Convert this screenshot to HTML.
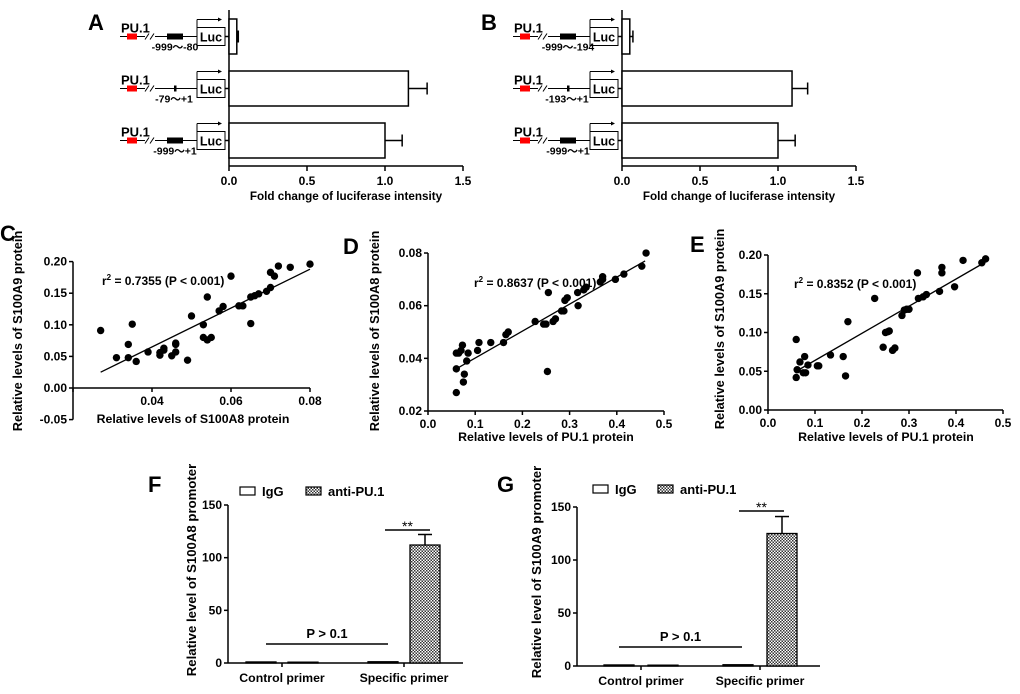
<!DOCTYPE html>
<html><head><meta charset="utf-8"><style>
html,body{margin:0;padding:0;background:#fff}
svg{display:block;font-family:"Liberation Sans",Arial,sans-serif;font-weight:bold}
</style></head><body>
<svg id="fig" width="1020" height="694" viewBox="0 0 1020 694" xmlns="http://www.w3.org/2000/svg">
<defs>
<pattern id="hatch" width="3" height="3" patternUnits="userSpaceOnUse">
<rect width="3" height="3" fill="#fff"/><rect width="1.5" height="1.5" fill="#333"/><rect x="1.5" y="1.5" width="1.5" height="1.5" fill="#333"/>
</pattern>
</defs>
</svg>
<script>
// Panel A/B data
const abValuesA=[0.05,1.15,1.0];
const abErrA=[0,0.12,0.11];
const abLabelsA=["-999～-80","-79～+1","-999～+1"];
const abValuesB=[0.05,1.09,1.0];
const abErrB=[0.02,0.10,0.11];
const abLabelsB=["-999～-194","-193～+1","-999～+1"];
const abTicks=[0,0.5,1.0,1.5];
const abTickLabels=["0.0","0.5","1.0","1.5"];
// Panel C
const cX=[0.027,0.031,0.034,0.034,0.035,0.036,0.039,0.042,0.042,0.043,0.043,0.045,0.046,0.046,0.046,0.049,0.050,0.053,0.053,0.054,0.054,0.055,0.057,0.058,0.060,0.062,0.063,0.065,0.065,0.066,0.067,0.069,0.070,0.070,0.071,0.072,0.075,0.080];
const cY=[0.091,0.048,0.069,0.048,0.101,0.042,0.057,0.052,0.056,0.060,0.063,0.051,0.057,0.071,0.069,0.044,0.114,0.100,0.080,0.076,0.144,0.080,0.122,0.129,0.177,0.130,0.130,0.102,0.144,0.146,0.149,0.153,0.159,0.183,0.177,0.193,0.191,0.196];
const cFit=[[0.027,0.025],[0.080,0.188]];
// Panel D
const dX=[0.06,0.06,0.06,0.065,0.07,0.073,0.075,0.077,0.082,0.085,0.105,0.108,0.133,0.16,0.165,0.17,0.227,0.245,0.25,0.253,0.255,0.265,0.27,0.283,0.288,0.29,0.295,0.317,0.318,0.33,0.335,0.365,0.37,0.37,0.397,0.415,0.453,0.462];
const dY=[0.027,0.036,0.042,0.042,0.043,0.045,0.031,0.034,0.039,0.042,0.043,0.046,0.046,0.046,0.049,0.050,0.054,0.053,0.053,0.035,0.065,0.054,0.055,0.058,0.058,0.062,0.063,0.065,0.060,0.066,0.067,0.069,0.071,0.070,0.070,0.072,0.075,0.080];
const dFit=[[0.06,0.036],[0.46,0.077]];
// Panel E
const eX=[0.06,0.06,0.062,0.068,0.075,0.078,0.08,0.085,0.105,0.108,0.133,0.16,0.165,0.17,0.227,0.245,0.25,0.255,0.258,0.265,0.27,0.285,0.29,0.295,0.3,0.318,0.32,0.33,0.337,0.365,0.37,0.37,0.397,0.415,0.455,0.463];
const eY=[0.091,0.042,0.052,0.062,0.048,0.069,0.048,0.058,0.057,0.057,0.071,0.069,0.044,0.114,0.144,0.081,0.100,0.101,0.102,0.077,0.080,0.122,0.129,0.130,0.130,0.177,0.144,0.146,0.149,0.153,0.177,0.184,0.159,0.193,0.190,0.195];
const eFit=[[0.06,0.05],[0.46,0.19]];
// Panel F/G
const fgCategories=["Control primer","Specific primer"];
const fIgG=[1,1.2];const fAnti=[0.8,112];const fAntiErr=[0,10];
const gIgG=[1,1.2];const gAnti=[0.8,125];const gAntiErr=[0,16];
const fgTicks=[0,50,100,150];

const svg=document.getElementById('fig');
const NS='http://www.w3.org/2000/svg';
function mk(tag,attrs,parent,text){const e=document.createElementNS(NS,tag);for(const k in attrs)e.setAttribute(k,attrs[k]);if(text!==undefined)e.textContent=text;(parent||svg).appendChild(e);return e;}
function line(x1,y1,x2,y2,w,g){return mk('line',{x1,y1,x2,y2,stroke:'#000','stroke-width':w||1.5},g);}

// ---------- A & B ----------
function panelAB(letter,ox,vals,errs,labels){
  const g=mk('g',{});
  
  
  const x0=229+ox, sx=v=>x0+v*156;
  const lt=mk('text',{x:88+ox,y:30,'font-size':22},g,letter);
  
  
  line(x0,10,x0,166,1.5,g);
  line(x0,166,sx(1.5),166,1.5,g);
  abTicks.forEach((t,i)=>{line(sx(t),166,sx(t),171,1.5,g);
    const tl=mk('text',{x:sx(t),y:185,'font-size':12,'text-anchor':'middle'},g,abTickLabels[i]);
    });
  const xt=mk('text',{x:sx(0.75),y:200,'font-size':11.7,'text-anchor':'middle'},g,'Fold change of luciferase intensity');
  
  const tops=[19,71,123];
  vals.forEach((v,i)=>{
    const y=tops[i],h=35,cy=y+h/2;
    const b=mk('rect',{x:x0,y:y,width:sx(v)-x0,height:h,fill:'#fff',stroke:'#000','stroke-width':1.5},g);
    
    if(errs[i]>0){line(sx(v),cy,sx(v+errs[i]),cy,1.5,g);line(sx(v+errs[i]),cy-6,sx(v+errs[i]),cy+6,1.5,g);}
    else{line(sx(v)+1,cy-6,sx(v)+1,cy+6,2.5,g);}
    line(x0-4,cy,x0,cy,1.5,g);
    const c=mk('g',{},g);
    
    const ly=cy;
    mk('text',{x:121+ox,y:ly-4,'font-size':13},c,'PU.1');
    line(120+ox,ly,197+ox,ly,1,c);
    mk('rect',{x:127+ox,y:ly-3,width:10,height:6,fill:'#f00'},c);
    mk('rect',{x:145+ox,y:ly-3,width:10,height:6,fill:'#fff'},c);
    line(145+ox,ly+3,149+ox,ly-3,1,c);line(150+ox,ly+3,154+ox,ly-3,1,c);
    if(i===1) mk('rect',{x:174+ox,y:ly-3,width:2.5,height:6,fill:'#000'},c);
    else mk('rect',{x:167+ox,y:ly-3,width:16,height:6,fill:'#000'},c);
    mk('rect',{x:197+ox,y:ly-9,width:28,height:18,fill:'#fff',stroke:'#000','stroke-width':1},c);
    mk('text',{x:211+ox,y:ly+5,'font-size':12.5,'text-anchor':'middle'},c,'Luc');
    line(197+ox,ly-9,197+ox,ly-17,1,c);line(197+ox,ly-17,219+ox,ly-17,1,c);
    mk('path',{d:`M${222+ox},${ly-17} l-4,-2 v4 z`,fill:'#000'},c);
    mk('text',{x:(i===1?174:175)+ox,y:ly+14,'font-size':10.5,'text-anchor':'middle'},c,labels[i]);
  });
}
panelAB('A',0,abValuesA,abErrA,abLabelsA);
panelAB('B',393,abValuesB,abErrB,abLabelsB);

// ---------- scatter ----------
function scatter(o){
  const g=mk('g',{});
  
  
  const sx=v=>o.ax+(v-o.xmin)*o.xs, sy=v=>o.ay0-(v-o.ymin)*o.ys;
  const lt=mk('text',{x:o.lx,y:o.ly,'font-size':22},g,o.letter);
  
  line(o.ax,sy(o.yticks[o.yticks.length-1]),o.ax,sy(o.yticks[0]),1.5,g);
  o.yticks.forEach((t,i)=>{line(o.ax-4,sy(t),o.ax,sy(t),1.5,g);
    const tl=mk('text',{x:o.ax-6,y:sy(t)+4,'font-size':12,'text-anchor':'end'},g,o.ylab[i]);
    });
  const xay=sy(o.xaxisAt);
  line(o.ax,xay,sx(o.xticks[o.xticks.length-1]),xay,1.5,g);
  o.xticks.forEach((t,i)=>{line(sx(t),xay,sx(t),xay+4,1.5,g);
    if(o.xlab[i]!==''){const tl=mk('text',{x:sx(t),y:xay+17,'font-size':12,'text-anchor':'middle'},g,o.xlab[i]);
    }});
  const xt=mk('text',{x:o.xtx,y:o.xty,'font-size':12.3,'text-anchor':'middle'},g,o.xtitle);
  
  const yt=mk('text',{x:0,y:0,'font-size':12.8,'text-anchor':'middle',transform:`translate(${o.ytx},${o.yty}) rotate(-90)`},g,o.ytitle);
  
  const fl=line(sx(o.fit[0][0]),sy(o.fit[0][1]),sx(o.fit[1][0]),sy(o.fit[1][1]),1.3,g);
  
  o.xs_.forEach((x,i)=>{const c=mk('circle',{cx:sx(x),cy:sy(o.ys_[i]),r:3.7,fill:'#000'},g);
    });
  const r=mk('text',{x:o.rx,y:o.ry,'font-size':12},g);
  
  mk('tspan',{},r,'r');mk('tspan',{dy:-5,'font-size':8},r,'2');mk('tspan',{dy:5},r,' = '+o.rtext);
}
scatter({letter:'C',lx:0,ly:241,ax:73,xmin:0.02,xs:3950,ymin:0,ys:632,ay0:388,xaxisAt:0,
  yticks:[-0.05,0,0.05,0.10,0.15,0.20],ylab:['-0.05','0.00','0.05','0.10','0.15','0.20'],
  xticks:[0.02,0.04,0.06,0.08],xlab:['','0.04','0.06','0.08'],xtitle:'Relative levels of S100A8 protein',xtx:193,xty:423,
  ytitle:'Relative levels of S100A9 protein',ytx:22,yty:331,fit:cFit,xs_:cX,ys_:cY,rx:102,ry:285,rtext:'0.7355 (P < 0.001)'});
scatter({letter:'D',lx:343,ly:254,ax:428,xmin:0,xs:472,ymin:0.02,ys:2633,ay0:411,xaxisAt:0.02,
  yticks:[0.02,0.04,0.06,0.08],ylab:['0.02','0.04','0.06','0.08'],
  xticks:[0,0.1,0.2,0.3,0.4,0.5],xlab:['0.0','0.1','0.2','0.3','0.4','0.5'],xtitle:'Relative levels of PU.1 protein',xtx:546,xty:441,
  ytitle:'Relative levels of S100A8 protein',ytx:379,yty:331,fit:dFit,xs_:dX,ys_:dY,rx:474,ry:287,rtext:'0.8637 (P < 0.001)'});
scatter({letter:'E',lx:690,ly:252,ax:768,xmin:0,xs:470,ymin:0,ys:775,ay0:410,xaxisAt:0,
  yticks:[0,0.05,0.10,0.15,0.20],ylab:['0.00','0.05','0.10','0.15','0.20'],
  xticks:[0,0.1,0.2,0.3,0.4,0.5],xlab:['0.0','0.1','0.2','0.3','0.4','0.5'],xtitle:'Relative levels of PU.1 protein',xtx:886,xty:441,
  ytitle:'Relative levels of S100A9 protein',ytx:724,yty:329,fit:eFit,xs_:eX,ys_:eY,rx:794,ry:288,rtext:'0.8352 (P < 0.001)'});

// ---------- F/G ----------
function chip(o){
  const g=mk('g',{});
  
  
  const sy=v=>o.y0-(v/150)*(o.y0-o.y150);
  const lt=mk('text',{x:o.lx,y:o.ly,'font-size':22},g,o.letter);
  
  line(o.ax,sy(150),o.ax,sy(0),1.5,g);
  fgTicks.forEach(t=>{line(o.ax-4,sy(t),o.ax,sy(t),1.5,g);
    const tl=mk('text',{x:o.ax-6,y:sy(t)+4,'font-size':12,'text-anchor':'end'},g,String(t));
    });
  line(o.ax,sy(0),o.xend,sy(0),1.5,g);
  const bw=30;
  fgCategories.forEach((c,i)=>{
    const cx=o.cats[i];
    line(cx,sy(0),cx,sy(0)+4,1.5,g);
    const tl=mk('text',{x:cx,y:sy(0)+19,'font-size':12.3,'text-anchor':'middle'},g,c);
    
    const b1=mk('rect',{x:cx-o.gap-bw,y:sy(o.igg[i]),width:bw,height:sy(0)-sy(o.igg[i]),fill:'#fff',stroke:'#000','stroke-width':1.3},g);
    
    const b2=mk('rect',{x:cx+o.gap,y:sy(o.anti[i]),width:bw,height:sy(0)-sy(o.anti[i]),fill:'url(#hatch)',stroke:'#000','stroke-width':1.3},g);
    
    if(o.err[i]>0){const bx=cx+o.gap+bw/2;line(bx,sy(o.anti[i]),bx,sy(o.anti[i]+o.err[i]),1.5,g);line(bx-7,sy(o.anti[i]+o.err[i]),bx+7,sy(o.anti[i]+o.err[i]),1.5,g);}
  });
  line(o.p[0],o.p[2],o.p[1],o.p[2],1.5,g);
  mk('text',{x:(o.p[0]+o.p[1])/2,y:o.p[2]-6,'font-size':13,'text-anchor':'middle'},g,'P > 0.1');
  line(o.s[0],o.s[2],o.s[1],o.s[2],1.5,g);
  mk('text',{x:(o.s[0]+o.s[1])/2,y:o.s[2]+1,'font-size':14,'font-weight':'normal','text-anchor':'middle'},g,'**');
  const l1=mk('g',{},g);
  mk('rect',{x:o.leg[0],y:o.legy,width:15,height:8,fill:'#fff',stroke:'#000','stroke-width':1.2},l1);
  mk('text',{x:o.leg[0]+22,y:o.legy+9,'font-size':13},l1,'IgG');
  const l2=mk('g',{},g);
  mk('rect',{x:o.leg[1],y:o.legy,width:15,height:8,fill:'url(#hatch)',stroke:'#000','stroke-width':1.2},l2);
  mk('text',{x:o.leg[1]+22,y:o.legy+9,'font-size':13},l2,'anti-PU.1');
  const yt=mk('text',{x:0,y:0,'font-size':13.2,'text-anchor':'middle',transform:`translate(${o.ytx},${o.yty}) rotate(-90)`},g,o.ytitle);
  
}
chip({letter:'F',lx:148,ly:492,ax:228,y0:663,y150:505,xend:463,cats:[282,404],gap:6,igg:fIgG,anti:fAnti,err:fAntiErr,
  p:[266,388,644],s:[385,430,530],leg:[240,306],legy:487,ytitle:'Relative level of S100A8 promoter',ytx:196,yty:570});
chip({letter:'G',lx:497,ly:492,ax:577,y0:666,y150:507,xend:820,cats:[641,760],gap:7,igg:gIgG,anti:gAnti,err:gAntiErr,
  p:[619,742,647],s:[739,784,511],leg:[593,658],legy:485,ytitle:'Relative level of S100A9 promoter',ytx:541,yty:572});
</script>
</body></html>
